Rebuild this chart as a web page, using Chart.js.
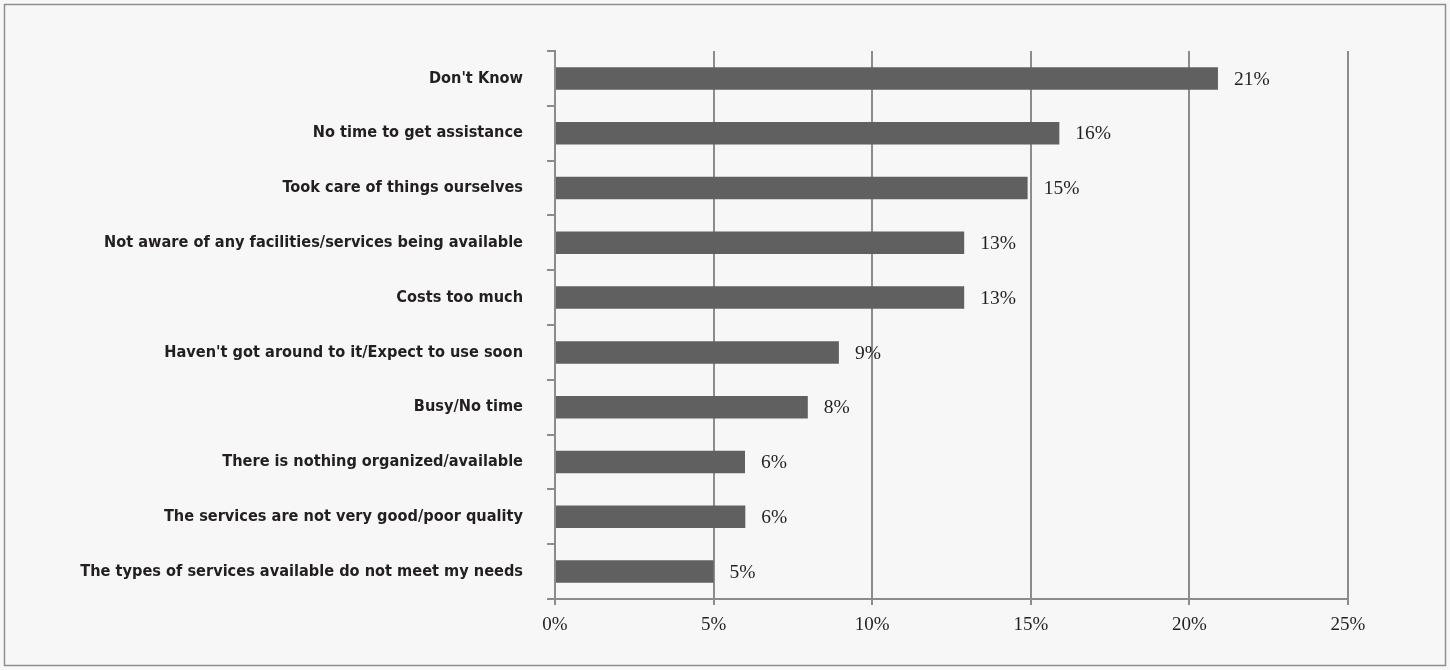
<!DOCTYPE html>
<html>
<head>
<meta charset="utf-8">
<script src="https://cdn.jsdelivr.net/npm/chart.js@4.4.1/dist/chart.umd.min.js"></script>
<style>
  html, body { margin: 0; padding: 0; background: #ffffff; }
  #wrap { width: 1450px; height: 670px; position: relative; }
</style>
</head>
<body>
<div id="wrap"><canvas id="c" width="1450" height="670"></canvas></div>
<script>
const categories = [
  "Don't Know",
  "No time to get assistance",
  "Took care of things ourselves",
  "Not aware of any facilities/services being available",
  "Costs too much",
  "Haven't got around to it/Expect to use soon",
  "Busy/No time",
  "There is nothing organized/available",
  "The services are not very good/poor quality",
  "The types of services available do not meet my needs"
];
const values = [20.9, 15.9, 14.9, 12.9, 12.9, 8.95, 7.97, 5.99, 6.0, 5.0];
const xTickValues = [0, 5, 10, 15, 20, 25];

const GRID = '#8c8c8c';

const framePlugin = {
  id: 'frame',
  beforeDraw(chart) {
    const ctx = chart.ctx;
    ctx.save();
    ctx.fillStyle = '#f7f7f7';
    ctx.fillRect(0, 0, chart.width, chart.height);
    ctx.strokeStyle = '#8f8f8f';
    ctx.lineWidth = 1.5;
    ctx.strokeRect(4.5, 4.5, chart.width - 9, chart.height - 9);
    ctx.restore();
  }
};

const valueLabels = {
  id: 'valueLabels',
  afterDatasetsDraw(chart) {
    const ctx = chart.ctx;
    const meta = chart.getDatasetMeta(0);
    ctx.save();
    ctx.font = '19.5px "Liberation Serif", "DejaVu Serif", serif';
    ctx.fillStyle = '#231f20';
    ctx.textAlign = 'left';
    ctx.textBaseline = 'middle';
    meta.data.forEach((bar, i) => {
      const v = chart.data.datasets[0].data[i];
      ctx.fillText(Math.round(v) + '%', bar.x + 16, bar.y + 1);
    });
    ctx.restore();
  }
};

new Chart(document.getElementById('c'), {
  type: 'bar',
  data: {
    labels: categories,
    datasets: [{
      data: values,
      backgroundColor: '#606060',
      borderWidth: 0,
      barPercentage: 0.41,
      categoryPercentage: 1.0
    }]
  },
  options: {
    indexAxis: 'y',
    responsive: false,
    animation: false,
    devicePixelRatio: 1,
    layout: { padding: { top: 51, right: 102, bottom: 0, left: 0 } },
    plugins: {
      legend: { display: false },
      tooltip: { enabled: false }
    },
    scales: {
      x: {
        type: 'linear',
        min: 0,
        max: 25,
        afterBuildTicks(scale) {
          scale.ticks = xTickValues.map(v => ({ value: v }));
        },
        afterFit(scale) { scale.height = 71; },
        grid: {
          color: GRID,
          lineWidth: 2,
          drawTicks: true,
          tickLength: 6,
          tickColor: GRID
        },
        border: { display: true, color: GRID, width: 2 },
        ticks: {
          padding: 9,
          color: '#231f20',
          font: { family: '"Liberation Serif", "DejaVu Serif", serif', size: 19 },
          callback: (v) => v + '%'
        }
      },
      y: {
        afterFit(scale) { scale.width = 555; },
        grid: {
          drawOnChartArea: false,
          drawTicks: true,
          tickLength: 8,
          color: GRID,
          lineWidth: 2,
          offset: true
        },
        border: { display: true, color: GRID, width: 2 },
        ticks: {
          padding: 24,
          color: '#231f20',
          font: { family: '"DejaVu Sans Condensed", "Liberation Sans Narrow", sans-serif', size: 16.2, weight: 'bold' }
        }
      }
    }
  },
  plugins: [framePlugin, valueLabels]
});
</script>
</body>
</html>
